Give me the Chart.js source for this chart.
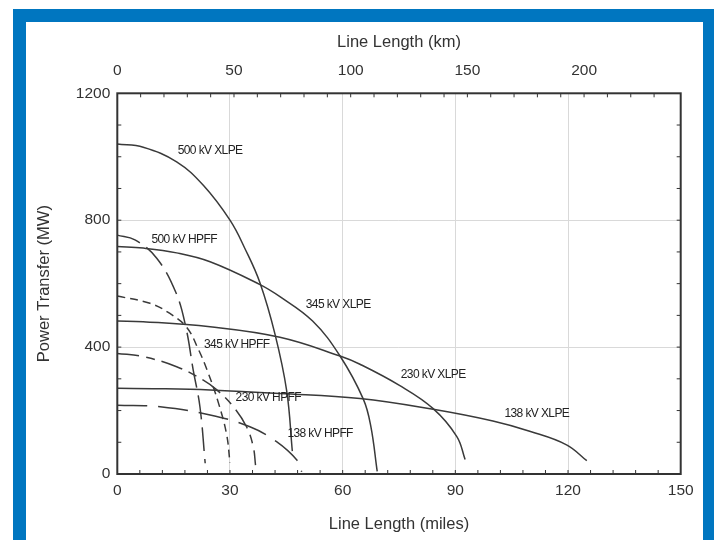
<!DOCTYPE html>
<html>
<head>
<meta charset="utf-8">
<script src="https://cdn.jsdelivr.net/npm/chart.js@4.4.1/dist/chart.umd.min.js"></script>
<style>
    body { margin: 0; background: #fff; }
    #wrap { position: relative; width: 715px; height: 540px; overflow: hidden; }
    #blue { position: absolute; left: 13px; top: 9px; width: 701px; height: 540px; background: #0076c0; }
    #white { position: absolute; left: 26px; top: 22px; width: 677px; height: 530px; background: #fff; }
    canvas { position: absolute; left: 0; top: 0; }
</style>
</head>
<body>
<div id="wrap">
    <div id="blue"></div>
    <div id="white"></div>
    <canvas id="lineChart" width="715" height="540"></canvas>
</div>
<script>
// axis ticks
const mileTicks = [0, 30, 60, 90, 120, 150];
const kmTicks = [0, 50, 100, 150, 200];
const mwTicks = [0, 400, 800, 1200];

// [line length (miles), power transfer (MW)]
const xlpe500 = [[0, 1040], [6.9, 1030], [15.8, 984], [22.9, 910], [30, 800], [34, 710], [38, 602], [42, 440], [45.1, 262], [46.6, 72]];
const xlpe345 = [[0, 717], [6.9, 712], [15.8, 697], [24.7, 669], [38, 597], [43.3, 559], [52, 482], [59.3, 372], [65.5, 236], [67.5, 150], [69.2, 8]];
const xlpe230 = [[0, 482], [6.9, 480], [24.7, 464], [43.3, 431], [59.3, 372], [64.6, 346], [75, 280], [84.1, 206], [90.4, 118], [92.6, 46]];
const xlpe138 = [[0, 270], [11, 269], [24.7, 265], [43.3, 254], [64.6, 238], [84.1, 204], [100, 167], [110, 134], [119.6, 92], [125, 42]];
const hpff500 = [[0, 753], [4.7, 738], [10.5, 680], [15.6, 572], [18.3, 460], [20.2, 328], [22, 212], [23.4, 34]];
const hpff345 = [[0, 561], [8.7, 538], [14, 506], [18.5, 462], [21.5, 395], [24, 325], [26.9, 225], [29.1, 125], [30, 35]];
const hpff230 = [[0, 380], [6.9, 370], [15.8, 338], [22.9, 296], [26.5, 265], [30.9, 212], [34.4, 149], [36.2, 86], [36.8, 28]];
const hpff138 = [[0, 217], [11.4, 212], [24.7, 186], [35.3, 149], [42.4, 102], [47.8, 44], [49.1, 7]];

const curveNames = ['500 kV XLPE', '345 kV XLPE', '230 kV XLPE', '138 kV XLPE', '500 kV HPFF', '345 kV HPFF', '230 kV HPFF', '138 kV HPFF'];
const curveData = [xlpe500, xlpe345, xlpe230, xlpe138, hpff500, hpff345, hpff230, hpff138];

// where each curve name is written, in miles / MW
const labelSpots = [[24.7, 1019], [58.8, 535], [84.1, 314], [111.7, 191], [17.8, 738], [31.8, 409], [40.2, 242], [54, 128]];

const dashes = [[], [], [], [], [24, 8], [8, 5], [22, 7, 9, 7], [30, 11]];
const family = '"Liberation Sans", Arial, sans-serif';
const KM_PER_MILE = 1.609344;

const framePlugin = {
    id: 'frame',
    afterDatasetsDraw(chart) {
        const {ctx, chartArea: a, scales} = chart;
        ctx.save();
        ctx.strokeStyle = '#333';
        ctx.lineWidth = 1;
        ctx.beginPath();
        for (let m = 6; m < 150; m += 6) {
            const px = scales.x.getPixelForValue(m);
            ctx.moveTo(px, a.bottom);
            ctx.lineTo(px, a.bottom - 4);
        }
        for (let k = 10; k < 240; k += 10) {
            const px = scales.x2.getPixelForValue(k);
            ctx.moveTo(px, a.top);
            ctx.lineTo(px, a.top + 4);
        }
        for (let w = 100; w < 1200; w += 100) {
            const py = scales.y.getPixelForValue(w);
            ctx.moveTo(a.left, py);
            ctx.lineTo(a.left + 4, py);
            ctx.moveTo(a.right, py);
            ctx.lineTo(a.right - 4, py);
        }
        ctx.stroke();
        ctx.lineWidth = 2;
        ctx.strokeRect(a.left, a.top, a.right - a.left, a.bottom - a.top);

        // curve names, slightly condensed like the original
        ctx.fillStyle = '#222';
        ctx.font = '12px ' + family;
        if ('letterSpacing' in ctx) ctx.letterSpacing = '-0.6px';
        ctx.textAlign = 'center';
        ctx.textBaseline = 'middle';
        curveNames.forEach((name, i) => {
            ctx.fillText(name, scales.x.getPixelForValue(labelSpots[i][0]), scales.y.getPixelForValue(labelSpots[i][1]));
        });
        ctx.restore();
    }
};

const plainLabel = v => String(v);

new Chart(document.getElementById('lineChart').getContext('2d'), {
    type: 'line',
    data: {
        datasets: curveData.map((pts, i) => ({
            label: curveNames[i],
            data: pts.map(p => ({x: p[0], y: p[1]})),
            borderColor: '#3a3a3a',
            borderWidth: 1.5,
            borderDash: dashes[i],
            pointRadius: 0,
            tension: 0.4,
            fill: false
        }))
    },
    options: {
        responsive: false,
        animation: false,
        layout: { padding: { left: 0, top: 0, right: 34.3, bottom: 0 } },
        plugins: { legend: { display: false }, tooltip: { enabled: false } },
        scales: {
            x: {
                type: 'linear',
                position: 'bottom',
                min: 0,
                max: 150,
                afterBuildTicks: s => { s.ticks = mileTicks.map(v => ({value: v})); },
                afterFit: s => { s.height = 66; },
                ticks: { padding: 7.7, autoSkip: false, maxRotation: 0, color: '#333', font: { size: 15.5, family: family }, callback: plainLabel },
                grid: {
                    drawTicks: false,
                    color: c => (c.tick && c.tick.value > 0 && c.tick.value < 150) ? '#d9d9d9' : 'rgba(0,0,0,0)'
                },
                border: { display: false },
                title: { display: true, text: 'Line Length (miles)', color: '#333', font: { size: 16.5, family: family }, padding: { top: 0, bottom: 5.2 } }
            },
            x2: {
                type: 'linear',
                position: 'top',
                min: 0,
                max: 150 * KM_PER_MILE,
                afterBuildTicks: s => { s.ticks = kmTicks.map(v => ({value: v})); },
                afterFit: s => { s.height = 93.3; },
                ticks: { padding: 5.3, autoSkip: false, maxRotation: 0, color: '#333', font: { size: 15.5, family: family }, callback: plainLabel },
                grid: { display: false },
                border: { display: false },
                title: { display: true, text: 'Line Length (km)', color: '#333', font: { size: 16.5, family: family }, padding: { top: 32.2, bottom: 0 } }
            },
            y: {
                type: 'linear',
                min: 0,
                max: 1200,
                afterBuildTicks: s => { s.ticks = mwTicks.map(v => ({value: v})); },
                afterFit: s => { s.width = 117.3; },
                ticks: { padding: 7, color: '#333', font: { size: 15.5, family: family }, callback: plainLabel },
                grid: {
                    drawTicks: false,
                    color: c => (c.tick && c.tick.value > 0 && c.tick.value < 1200) ? '#d9d9d9' : 'rgba(0,0,0,0)'
                },
                border: { display: false },
                title: { display: true, text: 'Power Transfer (MW)', color: '#333', font: { size: 16.5, family: family }, padding: { top: 34.2, bottom: 0 } }
            }
        }
    },
    plugins: [framePlugin]
});
</script>
</body>
</html>
